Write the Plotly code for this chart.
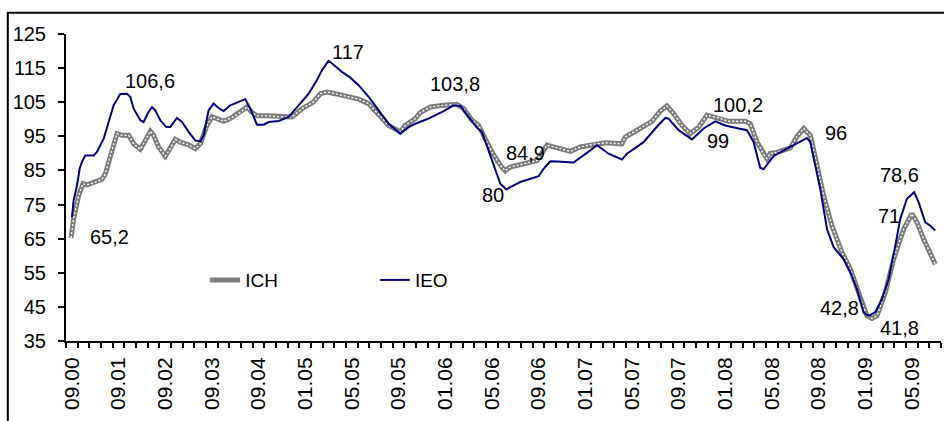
import plotly.graph_objects as go

# Tick labels (one label every 4 periods on the category axis)
tick_labels = ["09.00", "09.01", "09.02", "09.03", "09.04", "01.05", "05.05", "09.05",
               "01.06", "05.06", "09.06", "01.07", "05.07", "09.07", "01.08", "05.08",
               "09.08", "01.09", "05.09"]
n_periods = 75

# IEO series (period position, value)
ieo_x = [0.51, 0.65, 0.94, 1.17, 1.37, 1.65, 2.37, 2.65, 3.23, 4.08, 4.65, 5.23, 5.51, 5.80,
         6.37, 6.65, 7.0, 7.37, 7.65, 8.08, 8.6, 8.94, 9.51, 9.94, 10.51, 11.08, 11.51, 11.8,
         12.22, 12.65, 13.08, 13.51, 14.08, 14.65, 15.37, 15.8, 16.37, 16.94, 17.37, 18.23,
         19.08, 19.94, 20.8, 21.51, 21.94, 22.51, 22.94, 23.65, 24.37, 25.08, 25.94, 26.8,
         27.65, 28.65, 29.37, 29.94, 30.94, 32.37, 33.23, 33.8, 34.51, 35.23, 35.65, 36.37,
         36.94, 37.23, 37.74, 38.08, 38.94, 40.51, 40.94, 41.51, 42.08, 43.51, 44.94, 45.51,
         46.51, 47.65, 48.08, 49.51, 50.51, 51.37, 51.65, 52.51, 53.65, 54.65, 55.65, 56.51,
         57.65, 58.37, 58.94, 59.51, 59.8, 60.65, 61.8, 62.8, 63.51, 63.8, 64.23, 64.65,
         65.23, 65.8, 66.65, 67.23, 67.8, 68.37, 68.8, 69.37, 69.94, 70.51, 71.08, 71.51,
         72.08, 72.7, 73.08, 73.65, 74.08, 74.51]
ieo_y = [71.3, 76.2, 80.6, 85.5, 87.5, 89.4, 89.4, 90.4, 94.3, 104.1, 107.4, 107.5, 106.6, 103.1,
         99.7, 99.2, 101.7, 103.6, 102.6, 99.7, 97.7, 97.7, 100.4, 99.2, 96.3, 93.8, 93.5, 95.3,
         102.6, 104.6, 103.3, 102.4, 104.1, 104.9, 105.9, 103.1, 98.4, 98.4, 99.2, 99.5,
         100.7, 104.1, 107.5, 111.5, 114.4, 117.2, 115.9, 113.9, 112.2, 110.0, 106.6, 102.6,
         98.7, 95.8, 97.7, 98.7, 100.0, 102.4, 104.1, 103.9, 100.7, 97.5, 96.3, 89.4,
         83.5, 81.1, 79.4, 80.1, 81.6, 83.3, 85.5, 87.7, 87.6, 87.3, 90.9, 92.4,
         89.9, 88.2, 89.9, 93.3, 97.3, 100.4, 100.2, 96.8, 94.1, 97.3, 99.4, 98.2,
         97.3, 96.8, 93.3, 85.7, 85.4, 89.2, 91.4, 93.1, 94.5, 93.3, 86.5, 79.6,
         67.8, 62.5, 59.0, 55.1, 50.2, 43.3, 42.4, 43.5, 47.3, 53.1, 62.9, 70.8,
         76.7, 78.6, 75.7, 69.8, 68.8, 67.4]

# ICH series (period position, value)
ich_x = [0.43, 0.65, 1.08, 1.45, 1.8, 2.37, 3.08, 3.37, 3.8, 4.37, 4.8, 5.37, 5.8, 6.37, 6.8,
         7.23, 7.51, 7.94, 8.51, 8.94, 9.37, 9.8, 10.51, 11.08, 11.51, 12.08, 12.51, 12.94,
         13.51, 14.08, 14.65, 14.94, 15.51, 15.94, 16.37, 17.37, 18.51, 19.37, 20.23, 21.23,
         21.8, 22.37, 23.08, 23.94, 25.08, 25.94, 26.8, 27.65, 28.23, 28.65, 29.08, 29.94,
         30.37, 31.23, 32.37, 33.51, 34.08, 34.8, 35.37, 35.8, 36.51, 37.23, 37.65, 38.08,
         38.94, 40.37, 41.23, 42.08, 43.23, 44.08, 44.94, 45.37, 46.23, 47.65, 47.94, 48.8,
         50.23, 50.94, 51.51, 52.08, 52.8, 53.51, 54.23, 54.94, 55.94, 56.8, 58.23, 58.65,
         59.23, 59.94, 60.08, 60.37, 60.94, 62.08, 62.65, 63.23, 63.8, 64.37, 64.94, 65.65,
         66.51, 67.23, 67.65, 68.08, 68.65, 69.08, 69.51, 70.23, 70.94, 71.8, 72.51, 72.94,
         73.51, 74.51]
ich_y = [65.2, 70.8, 77.6, 81.1, 80.8, 81.4, 82.4, 84.0, 89.4, 95.8, 95.3, 95.3, 92.8, 91.2, 93.8,
         96.5, 95.3, 91.9, 89.2, 91.4, 94.1, 93.3, 92.5, 91.4, 92.8, 98.2, 100.7, 100.2,
         99.4, 100.2, 101.4, 102.0, 103.6, 102.0, 101.0, 101.0, 100.7, 100.7, 103.1, 105.1,
         107.5, 108.0, 107.5, 106.9, 105.9, 104.6, 101.4, 98.2, 97.1, 96.3, 98.2, 100.2,
         102.0, 103.6, 104.1, 104.4, 103.1, 99.7, 98.2, 95.3, 90.4, 86.5, 84.9, 86.0,
         86.7, 87.9, 92.4, 91.6, 90.6, 91.9, 92.5, 92.8, 93.1, 92.8, 94.8, 96.5,
         99.4, 102.4, 103.9, 101.7, 98.2, 95.8, 97.7, 101.2, 100.4, 99.4, 99.4, 98.7,
         93.3, 88.9, 88.5, 90.0, 90.3, 91.6, 94.9, 97.3, 95.3, 86.5, 77.6, 68.8,
         61.0, 56.1, 52.2, 47.3, 42.4, 41.6, 42.4, 49.2, 59.0, 67.8, 72.3, 69.8,
         64.9, 57.5]

# Value labels (text, period position, value position)
label_text = ["65,2", "106,6", "117", "103,8", "84,9", "80", "100,2", "99", "96",
              "78,6", "71", "42,8", "41,8"]
label_x = [3.71, 7.22, 24.2, 33.3, 39.4, 36.6, 57.6, 55.9, 66.0, 71.4, 70.5, 66.3, 71.4]
label_y = [65.4, 111.2, 119.7, 110.3, 90.1, 77.8, 104.2, 93.6, 96.0, 83.6, 71.6, 44.6, 38.7]

FONT = "Liberation Sans, Arial, sans-serif"

fig = go.Figure()
fig.add_trace(go.Scatter(x=ich_x, y=ich_y, mode="lines", name="ICH",
                         line=dict(color="#7a7a7a", width=5), legend="legend"))
fig.add_trace(go.Scatter(x=ich_x, y=ich_y, mode="lines", name="ICH", showlegend=False,
                         line=dict(color="#ffffff", width=1.4, dash="2px,2px"),
                         hoverinfo="skip"))
fig.add_trace(go.Scatter(x=ieo_x, y=ieo_y, mode="lines", name="IEO",
                         line=dict(color="#000080", width=2), legend="legend2"))

for t, x, y in zip(label_text, label_x, label_y):
    fig.add_annotation(x=x, y=y, text=t, showarrow=False, xanchor="center", yanchor="middle",
                       font=dict(family=FONT, size=20, color="black"))

tick_pos = [0.5 + 4 * k for k in range(len(tick_labels))]

fig.update_layout(
    width=944, height=421,
    margin=dict(l=66, r=3, t=34, b=80, autoexpand=False),
    paper_bgcolor="white", plot_bgcolor="white",
    font=dict(family=FONT, size=18, color="black"),
    legend=dict(x=0.159, y=0.1985, xanchor="left", yanchor="middle",
                bgcolor="rgba(0,0,0,0)", font=dict(family=FONT, size=19, color="black")),
    legend2=dict(x=0.353, y=0.1985, xanchor="left", yanchor="middle",
                 bgcolor="rgba(0,0,0,0)", font=dict(family=FONT, size=19, color="black")),
    xaxis=dict(range=[0, n_periods], showgrid=False, zeroline=False,
               showline=True, linecolor="black", linewidth=2,
               tickmode="array", tickvals=tick_pos, ticktext=tick_labels,
               ticks="outside", ticklen=5, tickcolor="rgba(0,0,0,0)",
               tickangle=-90, ticklabelstandoff=1,
               tickfont=dict(family=FONT, size=21, color="black"),
               minor=dict(tickmode="array", tickvals=list(range(n_periods + 1)),
                          ticks="outside", ticklen=5, tickwidth=1.5,
                          tickcolor="black", showgrid=False)),
    yaxis=dict(range=[35, 125], showgrid=False, zeroline=False,
               showline=True, linecolor="black", linewidth=2,
               tickmode="array", tickvals=list(range(35, 126, 10)),
               ticks="outside", ticklen=6, tickwidth=1.5, tickcolor="black",
               ticklabelstandoff=8,
               tickfont=dict(family=FONT, size=20, color="black")),
    showlegend=True,
    shapes=[dict(type="rect", xref="paper", yref="paper", x0=-0.0665, x1=1.2,
                 y0=-0.6, y1=1.0695, line=dict(color="black", width=2),
                 fillcolor="rgba(0,0,0,0)", layer="below")],
)

fig.write_html("out.html", config={"displayModeBar": False},
               post_script="document.body.style.margin='0';document.body.style.overflow='hidden';")
